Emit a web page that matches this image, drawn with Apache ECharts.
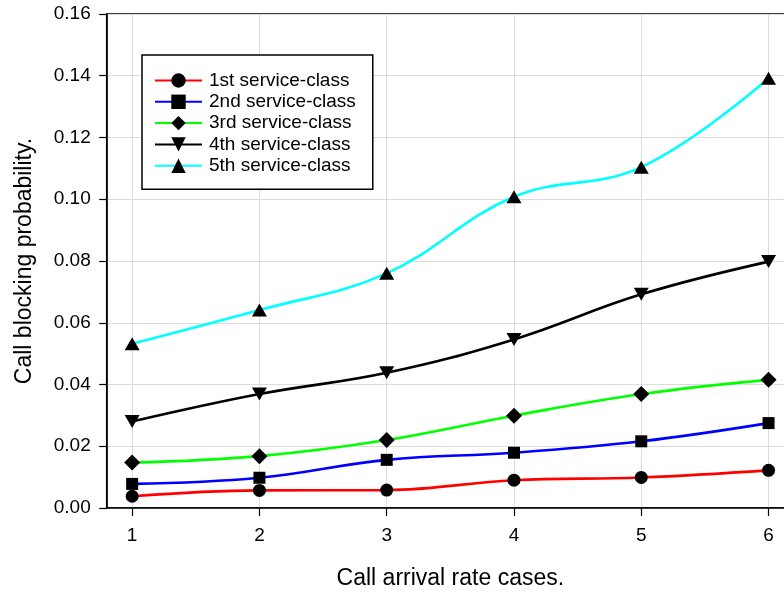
<!DOCTYPE html>
<html>
<head>
<meta charset="utf-8">
<script src="https://cdn.jsdelivr.net/npm/echarts@6/dist/echarts.min.js"></script>
<style>
html,body{margin:0;padding:0;background:#fff;}
#chart{width:784px;height:592px;}
</style>
</head>
<body>
<div id="chart"></div>
<script>
var categories = [1, 2, 3, 4, 5, 6];
var seriesNames = ['1st service-class', '2nd service-class', '3rd service-class', '4th service-class', '5th service-class'];
var class1 = [0.0038, 0.0057, 0.0058, 0.0090, 0.0099, 0.0122];
var class2 = [0.0078, 0.0098, 0.0156, 0.0179, 0.0216, 0.0275];
var class3 = [0.0147, 0.0168, 0.0220, 0.0299, 0.0369, 0.0415];
var class4 = [0.0280, 0.0369, 0.0438, 0.0546, 0.0692, 0.0798];
var class5 = [0.0532, 0.0641, 0.0760, 0.1008, 0.1104, 0.1392];
var yTicks = [0, 0.02, 0.04, 0.06, 0.08, 0.10, 0.12, 0.14, 0.16];

var FONT = '"Liberation Sans", Arial, sans-serif';
function pairs(vals) { return categories.map(function (c, i) { return [c, vals[i]]; }); }

var allData = [class1, class2, class3, class4, class5];
var lineColors = ['#ff0000', '#0000ff', '#00ff00', '#000000', '#00ffff'];
var symbols = ['circle', 'rect', 'diamond', 'triangle', 'triangle'];
var symbolSizes = [13, 12, 16, [15, 13], [15, 13]];
var rotates = [0, 0, 0, 180, 0];

var series = allData.map(function (d, i) {
  return {
    name: seriesNames[i],
    type: 'line',
    data: pairs(d),
    smooth: 0.4,
    symbol: symbols[i],
    symbolSize: symbolSizes[i],
    symbolRotate: rotates[i],
    showAllSymbol: true,
    lineStyle: { color: lineColors[i], width: 2.6 },
    itemStyle: { color: '#000', borderWidth: 0 },
    emphasis: { disabled: true },
    z: 3 + i
  };
});

var chart = echarts.init(document.getElementById('chart'), null, { renderer: 'canvas' });
chart.setOption({
  animation: false,
  backgroundColor: '#fff',
  grid: {
    left: 106.7, top: 14, width: 687.3, height: 494,
    outerBoundsMode: 'none',
    containLabel: false,
    show: true, borderColor: '#000', borderWidth: 1.5, backgroundColor: 'transparent'
  },
  legend: {
    orient: 'vertical',
    left: 142, top: 55,
    backgroundColor: '#fff',
    borderColor: '#000', borderWidth: 1.5,
    padding: [16, 17, 14, 12],
    itemWidth: 47, itemHeight: 18, itemGap: 2.3,
    textStyle: { fontFamily: FONT, fontSize: 19, color: '#000', padding: [0, 0, 0, 2] },
    data: seriesNames
  },
  xAxis: {
    type: 'value',
    min: 0.8, max: 6.2,
    name: 'Call arrival rate cases.',
    nameLocation: 'middle',
    nameGap: 59,
    nameTextStyle: { fontFamily: FONT, fontSize: 23, color: '#000' },
    axisLine: { show: true, onZero: false, lineStyle: { color: '#000', width: 1.5 } },
    axisTick: { show: true, customValues: categories, length: 8, lineStyle: { color: '#000', width: 1.2 } },
    axisLabel: { customValues: categories, fontFamily: FONT, fontSize: 19, color: '#000', margin: 18 },
    splitLine: { show: true, lineStyle: { color: '#dcdcdc', width: 1 } }
  },
  yAxis: {
    type: 'value',
    min: 0, max: 0.16, interval: 0.02,
    name: 'Call blocking probability.',
    nameLocation: 'middle',
    nameGap: 71,
    nameTextStyle: { fontFamily: FONT, fontSize: 23, color: '#000' },
    axisLine: { show: true, lineStyle: { color: '#000', width: 1.5 } },
    axisTick: { show: true, length: 7.5, lineStyle: { color: '#000', width: 1.2 } },
    axisLabel: { fontFamily: FONT, fontSize: 19, color: '#000', margin: 16,
      formatter: function (v) { return v.toFixed(2); } },
    splitLine: { show: true, lineStyle: { color: '#dcdcdc', width: 1 } }
  },
  series: series
});
</script>
</body>
</html>
